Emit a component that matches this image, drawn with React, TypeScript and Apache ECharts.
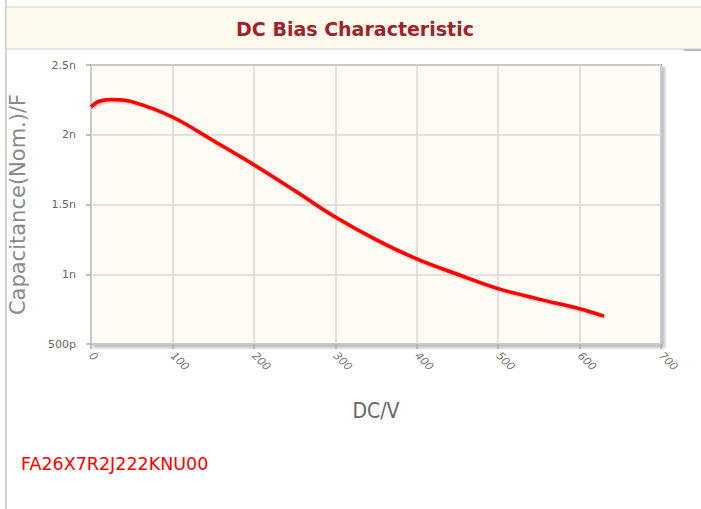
import React, { useEffect, useRef } from "react";
import * as echarts from "echarts";

const voltages = [0, 10, 25, 50, 100, 150, 200, 250, 300, 350, 400, 450, 500, 550, 600, 630];
const capacitanceNF = [2.2, 2.24, 2.252, 2.237, 2.127, 1.958, 1.785, 1.6, 1.41, 1.248, 1.11, 1.0, 0.897, 0.822, 0.753, 0.7];
const yTickLabels: Record<string, string> = { "0.5": "500p", "1": "1n", "1.5": "1.5n", "2": "2n", "2.5": "2.5n" };
const titleText = "DC Bias Characteristic";
const partNumber = "FA26X7R2J222KNU00";

export default function App() {
  const ref = useRef<HTMLDivElement>(null);
  useEffect(() => {
    if (!ref.current) return;
    const chart = echarts.init(ref.current, null, { renderer: "svg" });
    const font = "DejaVu Sans";
    chart.setOption({
      animation: false,
      backgroundColor: "#ffffff",
      graphic: [
        { type: "rect", shape: { x: 5, y: 0, width: 2, height: 509 }, style: { fill: "#d4d4d4" }, silent: true },
        { type: "rect", shape: { x: 6, y: 7, width: 700, height: 42 }, style: { fill: "#fffaee", stroke: "#d0d0d0", lineWidth: 1.2 }, silent: true },
        { type: "rect", shape: { x: 684, y: 49, width: 17, height: 2 }, style: { fill: "#bdbdbd" }, silent: true },
        {
          type: "text", x: 355, y: 29,
          style: { text: titleText, fill: "#a0222a", font: `bold 19px '${font}'`, align: "center", verticalAlign: "middle" },
        },
        {
          type: "text", x: 21, y: 464,
          style: { text: partNumber, fill: "#ff0000", font: `17.5px '${font}'`, align: "left", verticalAlign: "middle" },
        },
      ],
      grid: {
        show: true,
        left: 91, top: 65, right: 40, bottom: 165,
        outerBoundsMode: "none",
        containLabel: false,
        backgroundColor: "#fffcf3",
        borderColor: "#9a9a9a",
        borderWidth: 2,
        shadowColor: "rgba(0,0,0,0.25)",
        shadowBlur: 3,
        shadowOffsetX: 3,
        shadowOffsetY: 3,
      },
      xAxis: {
        type: "value",
        min: 0, max: 700, interval: 100,
        name: "DC/V",
        nameLocation: "middle",
        nameGap: 56,
        nameTextStyle: { color: "#666", fontSize: 21, fontFamily: "DejaVu Sans Condensed" },
        axisLine: { show: false },
        axisTick: { show: true, length: 5, lineStyle: { color: "#aaa", width: 1.5 } },
        axisLabel: { rotate: -45, margin: 10, color: "#777", fontSize: 11, fontFamily: font, fontStyle: "italic" },
        splitLine: { show: true, lineStyle: { color: "#d8d8d8", width: 1.5 } },
      },
      yAxis: {
        type: "value",
        min: 0.5, max: 2.5, interval: 0.5,
        name: "Capacitance(Nom.)/F",
        nameLocation: "middle",
        nameGap: 63,
        nameTextStyle: { color: "#8a8a8a", fontSize: 21, fontFamily: font },
        axisLine: { show: false },
        axisTick: { show: true, length: 5, lineStyle: { color: "#aaa", width: 1.5 } },
        axisLabel: {
          color: "#666", fontSize: 11, fontFamily: font, margin: 15,
          formatter: (v: number) => yTickLabels[String(v)] ?? String(v),
        },
        splitLine: { show: true, lineStyle: { color: "#d8d8d8", width: 1.5 } },
      },
      series: [
        {
          type: "line",
          data: voltages.map((v, i) => [v, capacitanceNF[i]]),
          smooth: 0.35,
          showSymbol: false,
          lineStyle: { color: "#ff0000", width: 3.5, shadowColor: "rgba(0,0,0,0.3)", shadowBlur: 2, shadowOffsetX: 1, shadowOffsetY: 1 },
        },
      ],
    });
    return () => chart.dispose();
  }, []);
  return <div ref={ref} style={{ position: "fixed", left: 0, top: 0, width: 701, height: 509 }} />;
}
